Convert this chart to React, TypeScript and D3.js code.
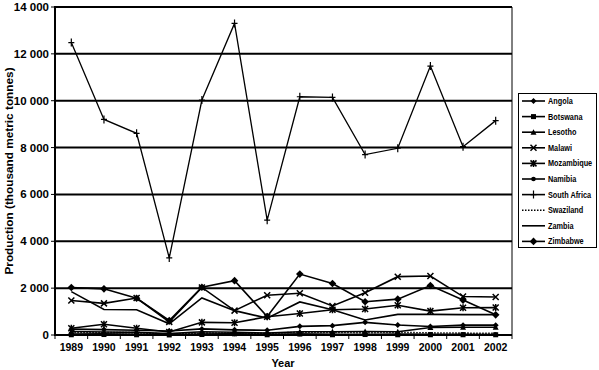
import React from "react";
import * as d3 from "d3";

const years = ["1989","1990","1991","1992","1993","1994","1995","1996","1997","1998","1999","2000","2001","2002"];
const yTicks = [0, 2000, 4000, 6000, 8000, 10000, 12000, 14000];

const angola = [250, 230, 200, 170, 260, 220, 200, 370, 400, 540, 430, 360, 420, 420];
const botswana = [10, 20, 10, 2, 20, 50, 10, 40, 10, 20, 10, 10, 10, 10];
const lesotho = [150, 130, 110, 60, 140, 120, 80, 140, 140, 150, 140, 320, 330, 330];
const malawi = [1470, 1350, 1580, 560, 2030, 1040, 1700, 1780, 1240, 1800, 2490, 2520, 1640, 1620];
const mozambique = [290, 460, 290, 130, 540, 520, 780, 920, 1080, 1110, 1270, 1020, 1160, 1170];
const namibia = [40, 50, 30, 20, 40, 50, 20, 40, 30, 20, 40, 30, 30, 20];
const southAfrica = [12480, 9200, 8610, 3290, 10030, 13300, 4900, 10170, 10140, 7700, 7970, 11480, 8040, 9150];
const swaziland = [110, 100, 100, 30, 80, 90, 70, 120, 110, 100, 110, 90, 80, 70];
const zambia = [1850, 1090, 1080, 480, 1580, 1040, 720, 1410, 1080, 640, 880, 880, 870, 870];
const zimbabwe = [2030, 1970, 1570, 620, 2040, 2320, 790, 2600, 2200, 1420, 1530, 2110, 1490, 860];

const seriesNames = ["Angola","Botswana","Lesotho","Malawi","Mozambique","Namibia","South Africa","Swaziland","Zambia","Zimbabwe"];
const seriesValues = [angola, botswana, lesotho, malawi, mozambique, namibia, southAfrica, swaziland, zambia, zimbabwe];
const seriesMarkers = ["diamond","square","triangle","x","asterisk","circle","plus","none","none","bigdiamond"];

const W = 599, H = 370;
const L = 55, R = 512, T = 7, B = 335;
const FONT = "'Liberation Sans', Arial, sans-serif";

function Marker({ type, x, y }: { type: string; x: number; y: number }) {
  switch (type) {
    case "diamond":
      return <path d={`M${x},${y - 3}L${x + 3},${y}L${x},${y + 3}L${x - 3},${y}Z`} fill="#000" />;
    case "bigdiamond":
      return <path d={`M${x},${y - 3.8}L${x + 3.8},${y}L${x},${y + 3.8}L${x - 3.8},${y}Z`} fill="#000" />;
    case "square":
      return <rect x={x - 2.5} y={y - 2.5} width={5} height={5} fill="#000" />;
    case "triangle":
      return <path d={`M${x},${y - 3}L${x + 3},${y + 2.5}L${x - 3},${y + 2.5}Z`} fill="#000" />;
    case "x":
      return <path d={`M${x - 3},${y - 3}L${x + 3},${y + 3}M${x + 3},${y - 3}L${x - 3},${y + 3}`} stroke="#000" strokeWidth={1.5} />;
    case "asterisk":
      return <path d={`M${x - 3},${y - 3}L${x + 3},${y + 3}M${x + 3},${y - 3}L${x - 3},${y + 3}M${x},${y - 3.5}L${x},${y + 3.5}`} stroke="#000" strokeWidth={1.5} />;
    case "circle":
      return <circle cx={x} cy={y} r={2.3} fill="#000" />;
    case "plus":
      return <path d={`M${x},${y - 4}L${x},${y + 4}M${x - 3},${y}L${x + 3},${y}`} stroke="#000" strokeWidth={1.2} />;
    default:
      return null;
  }
}

export default function App() {
  const x = d3.scaleBand<string>().domain(years).range([L, R]);
  const y = d3.scaleLinear().domain([0, 14000]).range([B, T]);
  const cx = (yr: string) => (x(yr) as number) + x.bandwidth() / 2;
  const line = d3.line<number>().x((_, i) => cx(years[i])).y((v) => y(v));

  return (
    <svg width={W} height={H} style={{ position: "absolute", left: 0, top: 0, background: "#fff" }}>
      <rect x={0} y={0} width={W} height={H} fill="#fff" />
      {yTicks.filter((t) => t > 0).map((t) => (
        <line key={t} x1={L} x2={R} y1={y(t)} y2={y(t)} stroke="#000" strokeWidth={2} />
      ))}
      <line x1={R} x2={R} y1={T} y2={B} stroke="#000" strokeWidth={1} />
      <line x1={L} x2={L} y1={T - 1} y2={B + 1} stroke="#000" strokeWidth={2} />
      <line x1={L} x2={R} y1={B} y2={B} stroke="#000" strokeWidth={2} />
      {yTicks.map((t) => (
        <g key={t}>
          <line x1={L - 4} x2={L} y1={y(t)} y2={y(t)} stroke="#000" strokeWidth={1} />
          <text x={L - 6} y={y(t) + 4} textAnchor="end" fontFamily={FONT} fontWeight="bold" fontSize={11.5}>
            {d3.format(",")(t).replace(/,/g, " ")}
          </text>
        </g>
      ))}
      {years.map((yr) => (
        <g key={yr}>
          <line x1={x(yr) as number} x2={x(yr) as number} y1={B} y2={B + 4} stroke="#000" strokeWidth={1} />
          <text x={cx(yr)} y={351} textAnchor="middle" fontFamily={FONT} fontWeight="bold" fontSize={10.5}>{yr}</text>
        </g>
      ))}
      <line x1={R} x2={R} y1={B} y2={B + 4} stroke="#000" strokeWidth={1} />
      <text x={283} y={367} textAnchor="middle" fontFamily={FONT} fontWeight="bold" fontSize={11}>Year</text>
      <text transform={`translate(13,${(T + B) / 2}) rotate(-90)`} textAnchor="middle" fontFamily={FONT} fontWeight="bold" fontSize={11.8}>
        Production (thousand metric tonnes)
      </text>
      {seriesValues.map((vals, si) => (
        <g key={seriesNames[si]}>
          <path d={line(vals) || ""} fill="none" stroke="#000" strokeWidth={seriesNames[si] === "South Africa" ? 1.3 : 1.6}
            strokeDasharray={seriesNames[si] === "Swaziland" ? "1.5,1.5" : undefined} />
          {vals.map((v, i) => (
            <Marker key={i} type={seriesMarkers[si]} x={cx(years[i])} y={y(v)} />
          ))}
        </g>
      ))}
      <rect x={518.5} y={93.5} width={78} height={154} fill="#fff" stroke="#000" strokeWidth={1} />
      {seriesNames.map((name, i) => {
        const ly = 101 + i * 15.6;
        return (
          <g key={name}>
            <line x1={522} x2={545} y1={ly} y2={ly} stroke="#000" strokeWidth={1.6}
              strokeDasharray={name === "Swaziland" ? "1.5,1.5" : undefined} />
            <Marker type={seriesMarkers[i]} x={533.5} y={ly} />
            <text transform={`translate(548,${ly + 3}) scale(0.86,1)`} fontFamily={FONT} fontWeight="bold" fontSize={8.5}>{name}</text>
          </g>
        );
      })}
    </svg>
  );
}
